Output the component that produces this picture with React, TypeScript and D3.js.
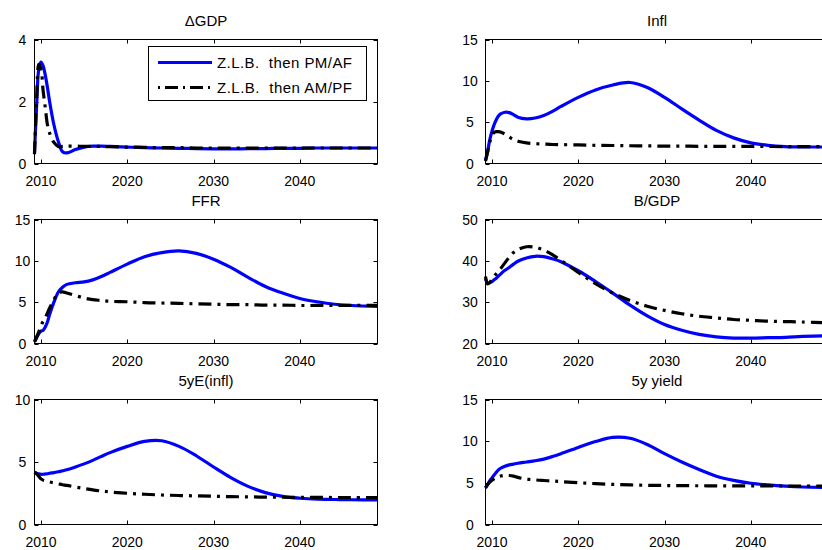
import React from "react";
import * as d3 from "d3";

// ---- data ----
const years = [2009.25, 2009.5, 2009.75, 2010, 2010.25, 2010.5, 2010.75, 2011, 2011.5, 2012, 2012.5, 2013, 2014, 2015, 2016, 2017, 2018, 2020, 2022, 2024, 2026, 2028, 2030, 2032, 2034, 2036, 2038, 2040, 2042, 2044, 2046, 2049];

const gdpPM = [0.35, 1.9, 3.05, 3.27, 3.15, 2.85, 2.45, 2.0, 1.25, 0.72, 0.38, 0.34, 0.45, 0.53, 0.56, 0.56, 0.55, 0.53, 0.51, 0.5, 0.49, 0.48, 0.47, 0.47, 0.48, 0.48, 0.49, 0.49, 0.5, 0.5, 0.5, 0.5];
const gdpAM = [0.3, 2.1, 3.2, 3.05, 2.35, 1.8, 1.25, 0.98, 0.68, 0.55, 0.55, 0.56, 0.56, 0.55, 0.55, 0.55, 0.54, 0.53, 0.52, 0.51, 0.51, 0.5, 0.5, 0.5, 0.5, 0.5, 0.5, 0.5, 0.5, 0.5, 0.5, 0.5];

const inflPM = [0.4, 1.5, 2.9, 3.9, 4.7, 5.3, 5.75, 6.0, 6.2, 6.15, 5.9, 5.6, 5.4, 5.5, 5.8, 6.3, 6.9, 8.0, 8.9, 9.5, 9.8, 9.2, 8.0, 6.6, 5.25, 4.0, 3.1, 2.5, 2.2, 2.05, 2.0, 2.0];
const inflAM = [0.3, 1.4, 2.6, 3.4, 3.75, 3.85, 3.85, 3.8, 3.55, 3.2, 2.9, 2.7, 2.5, 2.4, 2.35, 2.3, 2.28, 2.25, 2.2, 2.18, 2.15, 2.13, 2.1, 2.1, 2.08, 2.08, 2.07, 2.06, 2.06, 2.05, 2.05, 2.05];

const ffrPM = [0.2, 0.7, 1.2, 1.5, 1.6, 2.0, 2.6, 3.5, 5.0, 6.2, 6.8, 7.15, 7.35, 7.45, 7.7, 8.1, 8.6, 9.6, 10.5, 11.0, 11.2, 10.9, 10.2, 9.2, 8.0, 6.9, 6.1, 5.45, 5.05, 4.75, 4.6, 4.5];
const ffrAM = [0.2, 0.8, 1.4, 2.1, 2.7, 3.1, 3.7, 4.3, 5.3, 6.1, 6.25, 6.1, 5.8, 5.5, 5.3, 5.2, 5.1, 5.05, 4.95, 4.9, 4.85, 4.8, 4.75, 4.7, 4.7, 4.65, 4.65, 4.6, 4.6, 4.6, 4.6, 4.6];

const debtPM = [35.7, 34.6, 34.7, 35.0, 35.4, 35.8, 36.3, 36.8, 37.7, 38.4, 39.2, 39.9, 40.7, 41.1, 41.0, 40.5, 39.8, 37.6, 35.0, 32.2, 29.3, 26.7, 24.6, 23.2, 22.2, 21.6, 21.3, 21.3, 21.4, 21.5, 21.7, 21.9];
const debtAM = [36.2, 34.4, 34.8, 35.5, 36.2, 36.9, 37.5, 38.1, 39.5, 40.9, 42.0, 42.7, 43.4, 43.3, 42.6, 41.5, 40.1, 37.2, 34.5, 32.2, 30.4, 29.0, 28.0, 27.2, 26.6, 26.2, 25.8, 25.6, 25.4, 25.3, 25.2, 25.0];

const eInflPM = [4.15, 4.1, 4.05, 4.02, 4.02, 4.04, 4.06, 4.1, 4.15, 4.22, 4.3, 4.38, 4.6, 4.85, 5.13, 5.45, 5.75, 6.25, 6.65, 6.7, 6.25, 5.5, 4.6, 3.75, 3.05, 2.55, 2.25, 2.1, 2.02, 2.0, 1.98, 1.97];
const eInflAM = [4.2, 4.05, 3.85, 3.65, 3.55, 3.5, 3.45, 3.4, 3.32, 3.25, 3.18, 3.13, 3.0, 2.88, 2.77, 2.68, 2.6, 2.5, 2.42, 2.36, 2.32, 2.29, 2.26, 2.23, 2.21, 2.19, 2.18, 2.17, 2.17, 2.16, 2.16, 2.16];

const yieldPM = [4.4, 4.8, 5.25, 5.6, 5.95, 6.25, 6.55, 6.75, 7.0, 7.15, 7.25, 7.35, 7.5, 7.65, 7.85, 8.15, 8.5, 9.25, 9.95, 10.45, 10.35, 9.6, 8.5, 7.5, 6.6, 5.8, 5.3, 4.95, 4.75, 4.6, 4.5, 4.45];
const yieldAM = [4.4, 4.8, 5.1, 5.3, 5.5, 5.65, 5.75, 5.82, 5.9, 5.88, 5.8, 5.65, 5.45, 5.35, 5.28, 5.22, 5.15, 5.02, 4.9, 4.82, 4.75, 4.7, 4.68, 4.66, 4.65, 4.64, 4.63, 4.63, 4.63, 4.62, 4.62, 4.62];

const xTicks = [2010, 2020, 2030, 2040];
const seriesNames = ["Z.L.B.  then PM/AF", "Z.L.B.  then AM/PF"];

const panels = [
  { title: "\u0394GDP", yDomain: [0, 4], yTicks: [0, 2, 4], pm: gdpPM, am: gdpAM },
  { title: "Infl", yDomain: [0, 15], yTicks: [0, 5, 10, 15], pm: inflPM, am: inflAM },
  { title: "FFR", yDomain: [0, 15], yTicks: [0, 5, 10, 15], pm: ffrPM, am: ffrAM },
  { title: "B/GDP", yDomain: [20, 50], yTicks: [20, 30, 40, 50], pm: debtPM, am: debtAM },
  { title: "5yE(infl)", yDomain: [0, 10], yTicks: [0, 5, 10], pm: eInflPM, am: eInflAM },
  { title: "5y yield", yDomain: [0, 15], yTicks: [0, 5, 10, 15], pm: yieldPM, am: yieldAM },
];

// ---- layout ----
const W = 822;
const H = 550;
const colLeft = [34.5, 485.5];
const plotW = 343;
const rowTop = [39.5, 219.5, 399.5];
const rowH = [124, 124, 125];
const yLabelOffset = [12, 15.5];
const FONT = "'Liberation Sans', Arial, Helvetica, sans-serif";
const BLUE = "#0000ff";
const DASH = "13 6 3 6";
const LW = 3.2;

function Panel({ p, col, row }: any) {
  const x0 = colLeft[col];
  const y0 = rowTop[row];
  const h = rowH[row];
  const x = d3.scaleLinear().domain([2009.25, 2049]).range([x0, x0 + plotW]);
  const y = d3.scaleLinear().domain(p.yDomain).range([y0 + h, y0]);
  const line = d3
    .line<number>()
    .x((_, i) => x(years[i]))
    .y((d) => y(d))
    .curve(d3.curveCatmullRom.alpha(0.5));
  const tick = 4;
  return (
    <g>
      <rect x={x0} y={y0} width={plotW} height={h} fill="#fff" />
      <text x={x0 + plotW / 2} y={y0 - 14} textAnchor="middle" fontSize={15} fontFamily={FONT} fill="#000">
        {p.title}
      </text>
      {xTicks.map((t) => (
        <g key={"x" + t}>
          <line x1={Math.round(x(t)) + 0.5} x2={Math.round(x(t)) + 0.5} y1={y0 + h} y2={y0 + h - tick} stroke="#000" strokeWidth={1} />
          <line x1={Math.round(x(t)) + 0.5} x2={Math.round(x(t)) + 0.5} y1={y0} y2={y0 + tick} stroke="#000" strokeWidth={1} />
          <text x={x(t)} y={y0 + h + 22} textAnchor="middle" fontSize={14} fontFamily={FONT} fill="#000">
            {t}
          </text>
        </g>
      ))}
      {p.yTicks.map((t: number) => (
        <g key={"y" + t}>
          <line x1={x0} x2={x0 + tick} y1={Math.round(y(t)) + 0.5} y2={Math.round(y(t)) + 0.5} stroke="#000" strokeWidth={1} />
          <line x1={x0 + plotW - tick} x2={x0 + plotW} y1={Math.round(y(t)) + 0.5} y2={Math.round(y(t)) + 0.5} stroke="#000" strokeWidth={1} />
          <text x={x0 - yLabelOffset[col]} y={y(t)} dy="0.36em" textAnchor="middle" fontSize={14} fontFamily={FONT} fill="#000">
            {t}
          </text>
        </g>
      ))}
      <path d={line(p.pm) || ""} fill="none" stroke={BLUE} strokeWidth={LW} strokeLinejoin="round" />
      <path d={line(p.am) || ""} fill="none" stroke="#000" strokeWidth={LW} strokeDasharray={DASH} />
      <rect x={x0} y={y0} width={plotW} height={h} fill="none" stroke="#000" strokeWidth={1} />
    </g>
  );
}

function Legend() {
  const bx = 148.5;
  const by = 46.5;
  const bw = 218;
  const bh = 54;
  const rows = [62.5, 87.5];
  return (
    <g>
      <rect x={bx} y={by} width={bw} height={bh} fill="#fff" stroke="#000" strokeWidth={1} />
      <line x1={158} x2={212} y1={rows[0]} y2={rows[0]} stroke={BLUE} strokeWidth={LW} />
      <line x1={158} x2={212} y1={rows[1]} y2={rows[1]} stroke="#000" strokeWidth={LW} strokeDasharray="2 5 13 5" />
      {seriesNames.map((s, i) => (
        <text key={s} x={217} y={rows[i]} dy="0.36em" fontSize={15} fontFamily={FONT} fill="#000" textLength={135} lengthAdjust="spacing" style={{ whiteSpace: "pre" }}>
          {s}
        </text>
      ))}
    </g>
  );
}

export default function App() {
  return (
    <svg width={W} height={H} style={{ position: "absolute", left: 0, top: 0, background: "#fff" }}>
      <rect x={0} y={0} width={W} height={H} fill="#fff" />
      {panels.map((p, i) => (
        <Panel key={p.title} p={p} col={i % 2} row={Math.floor(i / 2)} />
      ))}
      <Legend />
    </svg>
  );
}
